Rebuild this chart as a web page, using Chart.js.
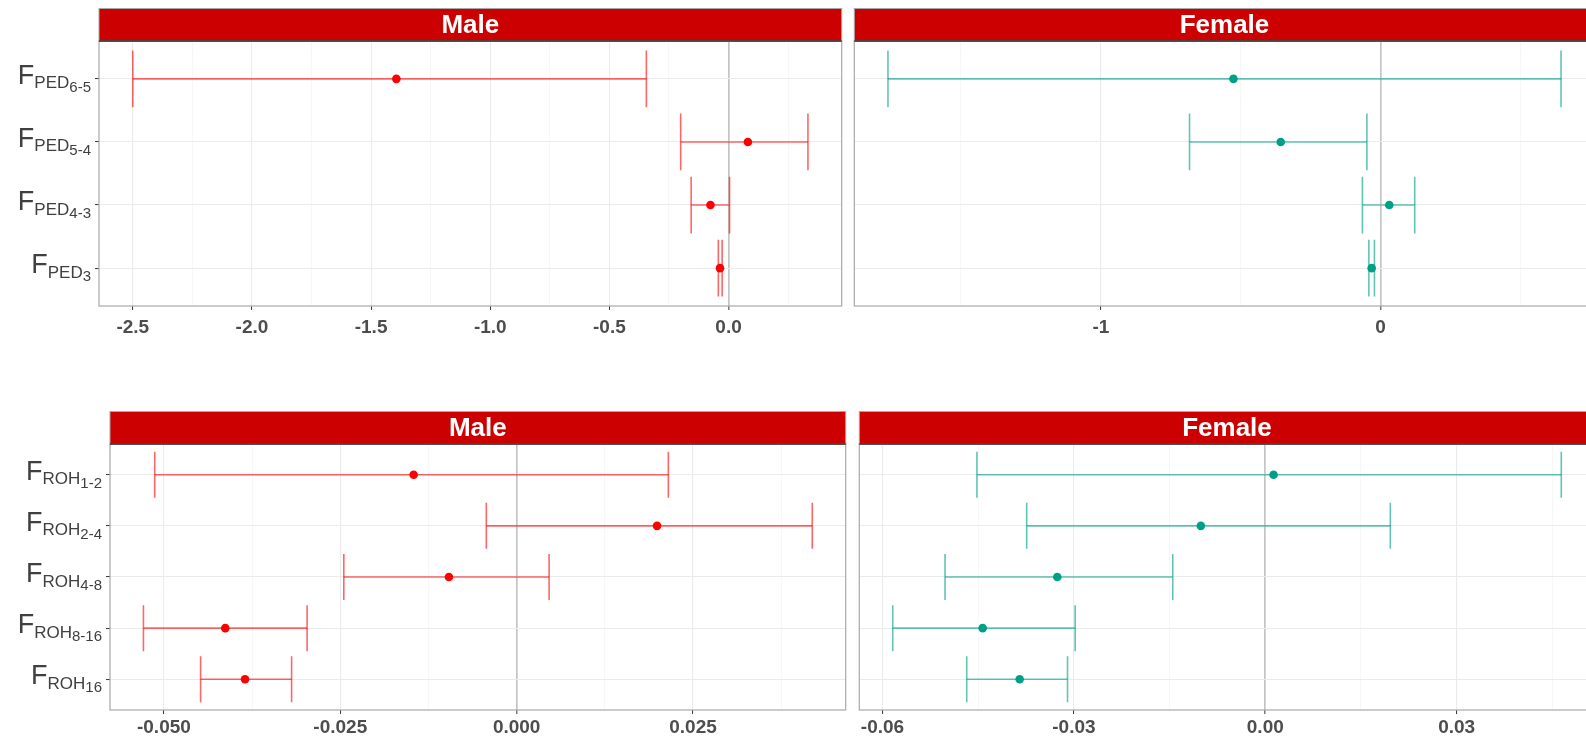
<!DOCTYPE html>
<html>
<head>
<meta charset="utf-8">
<script src="https://cdn.jsdelivr.net/npm/chart.js@4.4.1/dist/chart.umd.min.js"></script>
<style>
  html, body { margin: 0; padding: 0; background: #ffffff; overflow: hidden; }
  body { width: 1586px; height: 738px; position: relative; }
  .panel { position: absolute; }
  .panel canvas { display: block; }
</style>
</head>
<body>
<div class="panel" id="pedMalePanel"><canvas id="pedMale"></canvas></div>
<div class="panel" id="pedFemalePanel"><canvas id="pedFemale"></canvas></div>
<div class="panel" id="rohMalePanel"><canvas id="rohMale"></canvas></div>
<div class="panel" id="rohFemalePanel"><canvas id="rohFemale"></canvas></div>
<script>
// ---- Row labels: F with subscript and sub-subscript ----
const pedSub = ['PED', 'PED', 'PED', 'PED'];
const pedSubSub = ['6-5', '5-4', '4-3', '3'];
const rohSub = ['ROH', 'ROH', 'ROH', 'ROH', 'ROH'];
const rohSubSub = ['1-2', '2-4', '4-8', '8-16', '16'];

// ---- Pedigree inbreeding coefficients: estimate and 95% interval ----
const pedMaleEst  = [-1.394,  0.081, -0.076, -0.036];
const pedMaleLow  = [-2.500, -0.201, -0.157, -0.043];
const pedMaleHigh = [-0.345,  0.333,  0.004, -0.027];

const pedFemaleEst  = [-0.526, -0.357,  0.031, -0.032];
const pedFemaleLow  = [-1.761, -0.683, -0.065, -0.042];
const pedFemaleHigh = [ 0.645, -0.049,  0.122, -0.022];

// ---- ROH length classes: estimate and 95% interval ----
const rohMaleEst  = [-0.0146,  0.0199, -0.0096, -0.0413, -0.0385];
const rohMaleLow  = [-0.0513, -0.0043, -0.0245, -0.0529, -0.0448];
const rohMaleHigh = [ 0.0215,  0.0419,  0.0046, -0.0297, -0.0319];

const rohFemaleEst  = [ 0.0013, -0.0101, -0.0326, -0.0443, -0.0385];
const rohFemaleLow  = [-0.0452, -0.0374, -0.0502, -0.0584, -0.0468];
const rohFemaleHigh = [ 0.0464,  0.0196, -0.0145, -0.0298, -0.0310];

// ---- Axis breaks ----
const pedMaleTicks = [-2.5, -2.0, -1.5, -1.0, -0.5, 0.0];
const pedMaleTickLabels = ['-2.5', '-2.0', '-1.5', '-1.0', '-0.5', '0.0'];
const pedFemaleTicks = [-1, 0];
const pedFemaleTickLabels = ['-1', '0'];
const rohMaleTicks = [-0.050, -0.025, 0.000, 0.025];
const rohMaleTickLabels = ['-0.050', '-0.025', '0.000', '0.025'];
const rohFemaleTicks = [-0.06, -0.03, 0.00, 0.03];
const rohFemaleTickLabels = ['-0.06', '-0.03', '0.00', '0.03'];

// ---- Styling ----
const MALE_LINE = 'rgba(255, 0, 0, 0.6)';
const MALE_POINT = '#FF0000';
const FEMALE_LINE = 'rgba(0, 160, 135, 0.62)';
const FEMALE_POINT = '#00A087';
const STRIP_FILL = '#CC0000';
const FONT = '"Liberation Sans", Arial, Helvetica, sans-serif';

// facet decorations: strip on top, panel frame, row labels with subscripts
const facetDecor = {
  id: 'facetDecor',
  afterDraw(chart, args, o) {
    const { ctx, chartArea: a } = chart;
    ctx.save();
    // strip
    const sTop = a.top - o.stripHeight;
    ctx.fillStyle = STRIP_FILL;
    ctx.fillRect(a.left, sTop, a.right - a.left, o.stripHeight);
    ctx.strokeStyle = '#A8A8A8';
    ctx.lineWidth = 1;
    ctx.strokeRect(a.left, sTop + 0.5, a.right - a.left, o.stripHeight);
    ctx.fillStyle = '#FFFFFF';
    ctx.font = 'bold 26px ' + FONT;
    ctx.textAlign = 'center';
    ctx.textBaseline = 'middle';
    ctx.fillText(o.title, (a.left + a.right) / 2, sTop + o.stripHeight / 2 + 1);
    // panel frame
    ctx.strokeStyle = '#A8A8A8';
    ctx.lineWidth = 1.2;
    ctx.strokeRect(a.left, a.top, a.right - a.left, a.bottom - a.top);
    ctx.strokeStyle = '#333333';
    ctx.lineWidth = 1.5;
    ctx.beginPath();
    ctx.moveTo(a.left, a.top);
    ctx.lineTo(a.right, a.top);
    ctx.stroke();
    // row labels
    if (o.sub) {
      const y = chart.scales.y;
      ctx.fillStyle = '#404040';
      ctx.textAlign = 'left';
      ctx.textBaseline = 'alphabetic';
      o.sub.forEach((s, i) => {
        const py = y.getPixelForValue(i + 1);
        const ss = o.subSub[i];
        ctx.font = '27px ' + FONT; const w1 = ctx.measureText('F').width;
        ctx.font = '17px ' + FONT; const w2 = ctx.measureText(s).width;
        ctx.font = '15px ' + FONT; const w3 = ctx.measureText(ss).width;
        let x = a.left - 8 - w1 - w2 - w3;
        ctx.font = '27px ' + FONT; ctx.fillText('F', x, py + 5);
        ctx.font = '17px ' + FONT; ctx.fillText(s, x + w1, py + 9.5);
        ctx.font = '15px ' + FONT; ctx.fillText(ss, x + w1 + w2, py + 13);
      });
    }
    ctx.restore();
  }
};

function makePanel(cfg) {
  const n = cfg.est.length;
  const lo = Math.min(...cfg.low), hi = Math.max(...cfg.high);
  const pad = (hi - lo) * 0.05;
  const xMin = lo - pad, xMax = hi + pad;

  // major breaks plus minor breaks halfway between them
  const half = (cfg.ticks[1] - cfg.ticks[0]) / 2;
  const tickList = [];
  for (let k = Math.ceil(xMin / half - 1e-9); k <= Math.floor(xMax / half + 1e-9); k++) {
    const v = k * half;
    const idx = cfg.ticks.findIndex(t => Math.abs(t - v) < half * 1e-6);
    tickList.push({ value: v, major: idx >= 0, label: idx >= 0 ? cfg.tickLabels[idx] : '' });
  }
  const isZero = v => Math.abs(v) < half * 1e-6;
  const tickInfo = v => tickList.find(t => Math.abs(t.value - v) < half * 1e-6) || { major: false, label: '' };

  const datasets = [];
  datasets.push({
    data: cfg.est.map((v, i) => ({ x: v, y: i + 1 })),
    pointRadius: 4.3, pointHoverRadius: 4.3,
    pointBackgroundColor: cfg.point, pointBorderColor: cfg.point, pointBorderWidth: 0,
    showLine: false, order: 0
  });
  const seg = (pts) => ({
    data: pts, showLine: true, borderColor: cfg.line, borderWidth: 1.6,
    pointRadius: 0, pointHoverRadius: 0, fill: false, order: 1
  });
  for (let i = 0; i < n; i++) {
    const r = i + 1;
    datasets.push(seg([{ x: cfg.low[i], y: r }, { x: cfg.high[i], y: r }]));
    datasets.push(seg([{ x: cfg.low[i], y: r - 0.45 }, { x: cfg.low[i], y: r + 0.45 }]));
    datasets.push(seg([{ x: cfg.high[i], y: r - 0.45 }, { x: cfg.high[i], y: r + 0.45 }]));
  }

  const holder = document.getElementById(cfg.id + 'Panel');
  holder.style.left = cfg.left + 'px';
  holder.style.top = cfg.top + 'px';
  const canvas = document.getElementById(cfg.id);
  canvas.width = cfg.width; canvas.height = cfg.height;
  canvas.style.width = cfg.width + 'px'; canvas.style.height = cfg.height + 'px';

  return new Chart(canvas, {
    type: 'scatter',
    data: { datasets },
    options: {
      responsive: false,
      animation: false,
      events: [],
      layout: { padding: { top: cfg.padTop, right: 1, left: 0, bottom: 0 } },
      plugins: {
        legend: { display: false },
        tooltip: { enabled: false },
        facetDecor: { title: cfg.title, stripHeight: 33, sub: cfg.sub, subSub: cfg.subSub }
      },
      scales: {
        x: {
          type: 'linear', min: xMin, max: xMax,
          afterBuildTicks: s => { s.ticks = tickList.map(t => ({ value: t.value })); },
          afterFit: s => { s.height = cfg.xHeight; },
          border: { display: false },
          grid: {
            drawTicks: true, tickLength: 4,
            color: c => isZero(c.tick.value) ? '#C4C4C4' : (tickInfo(c.tick.value).major ? '#EBEBEB' : '#F5F5F5'),
            lineWidth: c => isZero(c.tick.value) ? 1.7 : (tickInfo(c.tick.value).major ? 1.1 : 0.8),
            tickColor: c => tickInfo(c.tick.value).major ? '#333333' : 'rgba(0,0,0,0)',
            tickWidth: 1
          },
          ticks: {
            autoSkip: false, maxRotation: 0, minRotation: 0, padding: cfg.tickPad,
            color: '#4D4D4D', font: { family: FONT, size: 19, weight: 'bold' },
            callback: v => tickInfo(v).label
          }
        },
        y: {
          type: 'linear', min: 0.4, max: n + 0.6, reverse: true,
          afterBuildTicks: s => { s.ticks = cfg.est.map((_, i) => ({ value: i + 1 })); },
          afterFit: s => { s.width = cfg.yWidth; },
          border: { display: false },
          grid: {
            color: '#EBEBEB', lineWidth: 1.1,
            drawTicks: !!cfg.sub, tickLength: 4, tickColor: '#333333', tickWidth: 1
          },
          ticks: { display: false }
        }
      }
    },
    plugins: [facetDecor]
  });
}

makePanel({
  id: 'pedMale', title: 'Male', left: 0, top: 0, width: 846, height: 340,
  padTop: 41, xHeight: 34, yWidth: 99, tickPad: 6,
  est: pedMaleEst, low: pedMaleLow, high: pedMaleHigh,
  ticks: pedMaleTicks, tickLabels: pedMaleTickLabels,
  line: MALE_LINE, point: MALE_POINT, sub: pedSub, subSub: pedSubSub
});
makePanel({
  id: 'pedFemale', title: 'Female', left: 850, top: 0, width: 749, height: 340,
  padTop: 41, xHeight: 34, yWidth: 2, tickPad: 6,
  est: pedFemaleEst, low: pedFemaleLow, high: pedFemaleHigh,
  ticks: pedFemaleTicks, tickLabels: pedFemaleTickLabels,
  line: FEMALE_LINE, point: FEMALE_POINT
});
makePanel({
  id: 'rohMale', title: 'Male', left: 0, top: 400, width: 850, height: 344,
  padTop: 44, xHeight: 34, yWidth: 110, tickPad: 2,
  est: rohMaleEst, low: rohMaleLow, high: rohMaleHigh,
  ticks: rohMaleTicks, tickLabels: rohMaleTickLabels,
  line: MALE_LINE, point: MALE_POINT, sub: rohSub, subSub: rohSubSub
});
makePanel({
  id: 'rohFemale', title: 'Female', left: 855, top: 400, width: 744, height: 344,
  padTop: 44, xHeight: 34, yWidth: 2, tickPad: 2,
  est: rohFemaleEst, low: rohFemaleLow, high: rohFemaleHigh,
  ticks: rohFemaleTicks, tickLabels: rohFemaleTickLabels,
  line: FEMALE_LINE, point: FEMALE_POINT
});
</script>
</body>
</html>
